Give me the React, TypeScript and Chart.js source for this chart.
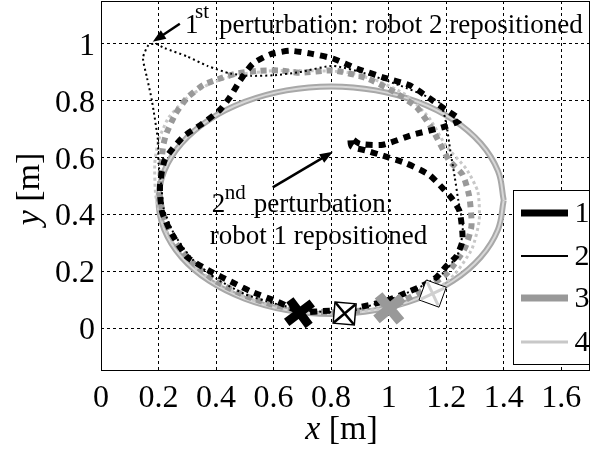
import React, { useEffect, useRef } from "react";
import { Chart, registerables } from "chart.js";

Chart.register(...registerables);

type P = { x: number; y: number };

const seriesLabels = ["1", "2", "3", "4"];
const xTickValues = [0, 0.2, 0.4, 0.6, 0.8, 1, 1.2, 1.4, 1.6];
const yTickValues = [0, 0.2, 0.4, 0.6, 0.8, 1];

// desired (reference) elliptical path
const refPath: P[] = [
  { x: 1.4, y: 0.45 }, { x: 1.38, y: 0.553 }, { x: 1.32, y: 0.65 }, { x: 1.224, y: 0.733 },
  { x: 1.1, y: 0.796 }, { x: 0.955, y: 0.836 }, { x: 0.8, y: 0.85 }, { x: 0.645, y: 0.836 },
  { x: 0.5, y: 0.796 }, { x: 0.376, y: 0.733 }, { x: 0.28, y: 0.65 }, { x: 0.22, y: 0.553 },
  { x: 0.2, y: 0.45 }, { x: 0.22, y: 0.347 }, { x: 0.28, y: 0.25 }, { x: 0.376, y: 0.167 },
  { x: 0.5, y: 0.104 }, { x: 0.645, y: 0.064 }, { x: 0.8, y: 0.05 }, { x: 0.955, y: 0.064 },
  { x: 1.1, y: 0.104 }, { x: 1.224, y: 0.167 }, { x: 1.32, y: 0.25 }, { x: 1.38, y: 0.347 },
  { x: 1.4, y: 0.45 },
];

const robot1: P[] = [
  { x: 0.68, y: 0.062 }, { x: 0.61, y: 0.095 }, { x: 0.52, y: 0.13 }, { x: 0.45, y: 0.165 },
  { x: 0.39, y: 0.195 }, { x: 0.3, y: 0.25 }, { x: 0.245, y: 0.335 }, { x: 0.212, y: 0.41 },
  { x: 0.205, y: 0.5 }, { x: 0.222, y: 0.592 }, { x: 0.285, y: 0.672 }, { x: 0.354, y: 0.72 },
  { x: 0.413, y: 0.767 }, { x: 0.448, y: 0.812 }, { x: 0.483, y: 0.87 }, { x: 0.528, y: 0.93 },
  { x: 0.587, y: 0.962 }, { x: 0.656, y: 0.975 }, { x: 0.73, y: 0.965 }, { x: 0.806, y: 0.948 },
  { x: 0.889, y: 0.913 }, { x: 0.98, y: 0.882 }, { x: 1.073, y: 0.854 }, { x: 1.142, y: 0.808 },
  { x: 1.2, y: 0.767 }, { x: 1.247, y: 0.732 }, { x: 1.19, y: 0.707 }, { x: 1.083, y: 0.68 },
  { x: 0.98, y: 0.645 }, { x: 0.9, y: 0.648 }, { x: 0.868, y: 0.668 }, { x: 0.872, y: 0.638 },
  { x: 0.92, y: 0.625 }, { x: 0.969, y: 0.61 }, { x: 1.06, y: 0.58 }, { x: 1.14, y: 0.54 },
  { x: 1.19, y: 0.49 }, { x: 1.222, y: 0.453 }, { x: 1.247, y: 0.41 }, { x: 1.257, y: 0.31 },
  { x: 1.236, y: 0.254 }, { x: 1.2, y: 0.218 }, { x: 1.167, y: 0.18 }, { x: 1.118, y: 0.15 },
  { x: 1.073, y: 0.13 }, { x: 1.0, y: 0.1 }, { x: 0.934, y: 0.082 }, { x: 0.85, y: 0.066 },
  { x: 0.76, y: 0.06 }, { x: 0.69, y: 0.055 },
];

const robot2: P[] = [
  { x: 0.8, y: 0.056 }, { x: 0.7, y: 0.064 }, { x: 0.6, y: 0.088 }, { x: 0.5, y: 0.12 },
  { x: 0.4, y: 0.175 }, { x: 0.32, y: 0.24 }, { x: 0.255, y: 0.33 }, { x: 0.218, y: 0.42 },
  { x: 0.21, y: 0.5 }, { x: 0.2, y: 0.58 }, { x: 0.198, y: 0.66 }, { x: 0.177, y: 0.8 },
  { x: 0.16, y: 0.88 }, { x: 0.146, y: 0.95 }, { x: 0.165, y: 0.995 }, { x: 0.19, y: 1.0 },
  { x: 0.22, y: 0.985 }, { x: 0.3, y: 0.955 }, { x: 0.37, y: 0.922 }, { x: 0.45, y: 0.895 },
  { x: 0.52, y: 0.887 }, { x: 0.6, y: 0.889 }, { x: 0.69, y: 0.9 }, { x: 0.806, y: 0.922 },
  { x: 0.92, y: 0.895 }, { x: 1.04, y: 0.853 }, { x: 1.12, y: 0.82 }, { x: 1.18, y: 0.79 },
  { x: 1.2, y: 0.72 }, { x: 1.215, y: 0.62 }, { x: 1.23, y: 0.53 }, { x: 1.242, y: 0.45 },
  { x: 1.258, y: 0.36 }, { x: 1.245, y: 0.27 }, { x: 1.19, y: 0.195 }, { x: 1.1, y: 0.14 },
  { x: 1.0, y: 0.1 }, { x: 0.92, y: 0.075 }, { x: 0.847, y: 0.052 },
];

const robot3: P[] = [
  { x: 0.9, y: 0.062 }, { x: 0.8, y: 0.056 }, { x: 0.7, y: 0.062 }, { x: 0.6, y: 0.082 },
  { x: 0.5, y: 0.115 }, { x: 0.4, y: 0.165 }, { x: 0.32, y: 0.23 }, { x: 0.26, y: 0.3 },
  { x: 0.222, y: 0.38 }, { x: 0.205, y: 0.46 }, { x: 0.208, y: 0.55 }, { x: 0.216, y: 0.64 },
  { x: 0.228, y: 0.686 }, { x: 0.26, y: 0.755 }, { x: 0.3, y: 0.81 }, { x: 0.356, y: 0.855 },
  { x: 0.42, y: 0.88 }, { x: 0.47, y: 0.895 }, { x: 0.55, y: 0.905 }, { x: 0.62, y: 0.906 },
  { x: 0.69, y: 0.898 }, { x: 0.806, y: 0.906 }, { x: 0.92, y: 0.88 }, { x: 1.01, y: 0.836 },
  { x: 1.097, y: 0.777 }, { x: 1.153, y: 0.697 }, { x: 1.21, y: 0.59 }, { x: 1.257, y: 0.54 },
  { x: 1.28, y: 0.465 }, { x: 1.288, y: 0.36 }, { x: 1.264, y: 0.28 }, { x: 1.2, y: 0.19 },
  { x: 1.12, y: 0.135 }, { x: 1.05, y: 0.095 }, { x: 1.003, y: 0.07 },
];

const robot4: P[] = [
  { x: 1.05, y: 0.085 }, { x: 0.95, y: 0.066 }, { x: 0.8, y: 0.052 }, { x: 0.7, y: 0.056 },
  { x: 0.6, y: 0.076 }, { x: 0.5, y: 0.11 }, { x: 0.4, y: 0.16 }, { x: 0.31, y: 0.23 },
  { x: 0.25, y: 0.3 }, { x: 0.21, y: 0.38 }, { x: 0.19, y: 0.47 }, { x: 0.187, y: 0.58 },
  { x: 0.2, y: 0.66 }, { x: 0.235, y: 0.74 }, { x: 0.3, y: 0.81 }, { x: 0.38, y: 0.86 },
  { x: 0.47, y: 0.89 }, { x: 0.6, y: 0.905 }, { x: 0.72, y: 0.905 }, { x: 0.85, y: 0.9 },
  { x: 0.96, y: 0.87 }, { x: 1.06, y: 0.82 }, { x: 1.14, y: 0.74 }, { x: 1.2, y: 0.64 },
  { x: 1.27, y: 0.56 }, { x: 1.31, y: 0.48 }, { x: 1.315, y: 0.38 }, { x: 1.29, y: 0.28 },
  { x: 1.23, y: 0.19 }, { x: 1.153, y: 0.122 },
];

const finalPos: P[] = [
  { x: 0.69, y: 0.055 },
  { x: 0.847, y: 0.052 },
  { x: 1.003, y: 0.07 },
  { x: 1.153, y: 0.122 },
];

const annotation1 = { lead: "1", sup: "st", text: "perturbation: robot 2 repositioned" };
const annotation2 = { lead: "2", sup: "nd", text: "perturbation:", line2: "robot 1 repositioned" };

const SERIF = "'Liberation Serif', 'Times New Roman', serif";
const lineColors = ["#000000", "#000000", "#999999", "#c8c8c8"];
const legendWidths = [7, 2, 7, 3];
const fmt = (v: number) => String(Math.round(v * 10) / 10);

function drawArrow(ctx: CanvasRenderingContext2D, x1: number, y1: number, x2: number, y2: number) {
  const ang = Math.atan2(y2 - y1, x2 - x1);
  const hl = 13, hw = 5;
  ctx.save();
  ctx.strokeStyle = "#000";
  ctx.fillStyle = "#000";
  ctx.lineWidth = 2.5;
  ctx.beginPath();
  ctx.moveTo(x1, y1);
  ctx.lineTo(x2 - Math.cos(ang) * hl * 0.8, y2 - Math.sin(ang) * hl * 0.8);
  ctx.stroke();
  ctx.beginPath();
  ctx.moveTo(x2, y2);
  ctx.lineTo(x2 - hl * Math.cos(ang) + hw * Math.sin(ang), y2 - hl * Math.sin(ang) - hw * Math.cos(ang));
  ctx.lineTo(x2 - hl * Math.cos(ang) - hw * Math.sin(ang), y2 - hl * Math.sin(ang) + hw * Math.cos(ang));
  ctx.closePath();
  ctx.fill();
  ctx.restore();
}

const decorPlugin = {
  id: "decor",
  afterDraw(chart: any) {
    const { ctx, chartArea: ca, scales } = chart;
    const sx = scales.x, sy = scales.y;
    ctx.save();
    // frame
    ctx.strokeStyle = "#000";
    ctx.lineWidth = 1;
    ctx.setLineDash([]);
    ctx.strokeRect(ca.left + 0.5, ca.top + 0.5, ca.right - ca.left - 1, ca.bottom - ca.top - 1);

    // tick labels
    ctx.fillStyle = "#000";
    ctx.font = `32px ${SERIF}`;
    ctx.textAlign = "center";
    ctx.textBaseline = "alphabetic";
    xTickValues.forEach((v) => ctx.fillText(fmt(v), sx.getPixelForValue(v), ca.bottom + 36));
    ctx.textAlign = "right";
    yTickValues.forEach((v) => ctx.fillText(fmt(v), ca.left - 6, sy.getPixelForValue(v) + 11));

    // annotations
    ctx.textAlign = "left";
    ctx.textBaseline = "alphabetic";
    const a1x = sx.getPixelForValue(0.292), a1y = sy.getPixelForValue(1.038);
    ctx.font = `27px ${SERIF}`;
    ctx.fillText(annotation1.lead, a1x, a1y);
    ctx.font = `21px ${SERIF}`;
    ctx.fillText(annotation1.sup, a1x + 10, a1y - 15);
    ctx.font = `27px ${SERIF}`;
    ctx.fillText(annotation1.text, a1x + 34, a1y);

    const a2x = sx.getPixelForValue(0.385), a2y = sy.getPixelForValue(0.408);
    ctx.fillText(annotation2.lead, a2x, a2y);
    ctx.font = `21px ${SERIF}`;
    ctx.fillText(annotation2.sup, a2x + 13, a2y - 13);
    ctx.font = `27px ${SERIF}`;
    ctx.fillText(annotation2.text, a2x + 42, a2y);
    ctx.fillText(annotation2.line2, sx.getPixelForValue(0.378), sy.getPixelForValue(0.296));

    drawArrow(ctx, sx.getPixelForValue(0.274), sy.getPixelForValue(1.07), sx.getPixelForValue(0.18), sy.getPixelForValue(1.007));
    drawArrow(ctx, sx.getPixelForValue(0.597), sy.getPixelForValue(0.495), sx.getPixelForValue(0.806), sy.getPixelForValue(0.62));

    // legend
    const lx0 = 513, ly0 = 190, lx1 = ca.right, ly1 = 365;
    ctx.fillStyle = "#fff";
    ctx.fillRect(lx0, ly0, lx1 - lx0, ly1 - ly0);
    ctx.strokeStyle = "#000";
    ctx.lineWidth = 1;
    ctx.strokeRect(lx0 + 0.5, ly0 + 0.5, lx1 - lx0 - 1, ly1 - ly0 - 1);
    const rowY = [213, 256, 298, 342];
    seriesLabels.forEach((lab, i) => {
      ctx.strokeStyle = lineColors[i];
      ctx.lineWidth = legendWidths[i];
      ctx.lineCap = "butt";
      ctx.beginPath();
      ctx.moveTo(521, rowY[i]);
      ctx.lineTo(568, rowY[i]);
      ctx.stroke();
      ctx.fillStyle = "#000";
      ctx.font = `30px ${SERIF}`;
      ctx.textAlign = "center";
      ctx.textBaseline = "middle";
      ctx.fillText(lab, 582, rowY[i] + 1);
    });

    // axis titles
    ctx.fillStyle = "#000";
    ctx.textBaseline = "alphabetic";
    ctx.textAlign = "left";
    ctx.font = `italic 34px ${SERIF}`;
    const wx = ctx.measureText("x").width;
    ctx.font = `34px ${SERIF}`;
    const wr = ctx.measureText(" [m]").width;
    const cx = (ca.left + ca.right) / 2 - 4;
    const startX = cx - (wx + wr) / 2;
    ctx.font = `italic 34px ${SERIF}`;
    ctx.fillText("x", startX, 439);
    ctx.font = `34px ${SERIF}`;
    ctx.fillText(" [m]", startX + wx, 439);

    ctx.translate(39, 189);
    ctx.rotate(-Math.PI / 2);
    ctx.font = `italic 34px ${SERIF}`;
    const wy = ctx.measureText("y").width;
    const sxy = -(wy + wr) / 2;
    ctx.fillText("y", sxy, 0);
    ctx.font = `34px ${SERIF}`;
    ctx.fillText(" [m]", sxy + wy, 0);
    ctx.restore();
  },
};

export default function App() {
  const ref = useRef<HTMLCanvasElement | null>(null);
  useEffect(() => {
    if (!ref.current) return;
    const line = (data: P[], color: string, width: number, dash: number[], order: number, tension = 0.2) => ({
      data,
      showLine: true,
      borderColor: color,
      backgroundColor: color,
      borderWidth: width,
      borderDash: dash,
      borderCapStyle: "butt",
      pointRadius: 0,
      tension,
      order,
    });
    const marker = (p: P, style: string, r: number, color: string, bw: number, fill: string, rot: number, order: number) => ({
      data: [p],
      showLine: false,
      pointStyle: style,
      pointRadius: r,
      pointBorderColor: color,
      pointBackgroundColor: fill,
      pointBorderWidth: bw,
      pointRotation: rot,
      order,
    });
    const chart = new Chart(ref.current, {
      type: "scatter",
      data: {
        datasets: [
          marker(finalPos[0], "crossRot", 16, "#000", 9, "#000", 8, 0),
          marker(finalPos[1], "crossRot", 14, "#000", 2.5, "#000", 5, 0),
          marker(finalPos[1], "rect", 15, "#000", 1.5, "#fff", 5, 1),
          marker(finalPos[2], "crossRot", 17, "#999999", 10, "#999999", 5, 0),
          marker(finalPos[3], "crossRot", 13, "#d0d0d0", 3, "#d0d0d0", 20, 0),
          marker(finalPos[3], "rect", 15, "#000", 1, "#fff", 20, 1),
          line(robot2, lineColors[1], 2, [2, 3], 2),
          line(robot1, lineColors[0], 6, [7, 6], 3),
          line(robot3, lineColors[2], 6, [6, 5], 4),
          line(robot4, lineColors[3], 3, [3, 3], 5),
          line(refPath, "#d8d8d8", 2, [], 6, 0.4),
          line(refPath, "#a8a8a8", 6, [], 7, 0.4),
        ] as any,
      },
      options: {
        animation: false,
        responsive: true,
        maintainAspectRatio: false,
        layout: { autoPadding: false, padding: { top: 1, right: 4, left: 0, bottom: 0 } },
        plugins: { legend: { display: false }, tooltip: { enabled: false } },
        elements: { line: { borderJoinStyle: "round" } },
        scales: {
          x: {
            type: "linear",
            min: 0,
            max: 1.7,
            afterBuildTicks: (s: any) => {
              s.ticks = xTickValues.map((v) => ({ value: v }));
            },
            afterFit: (s: any) => {
              s.height = 86;
            },
            grid: { color: "#000", lineWidth: 1, drawTicks: false },
            border: { display: false, dash: [3, 3] },
            ticks: { display: false },
          },
          y: {
            type: "linear",
            min: -0.15,
            max: 1.15,
            afterBuildTicks: (s: any) => {
              s.ticks = yTickValues.map((v) => ({ value: v }));
            },
            afterFit: (s: any) => {
              s.width = 101;
            },
            grid: { color: "#000", lineWidth: 1, drawTicks: false },
            border: { display: false, dash: [3, 3] },
            ticks: { display: false },
          },
        },
      } as any,
      plugins: [decorPlugin],
    });
    return () => chart.destroy();
  }, []);
  return (
    <div style={{ position: "fixed", left: 0, top: 0, width: 594, height: 457, background: "#fff" }}>
      <canvas ref={ref} />
    </div>
  );
}
